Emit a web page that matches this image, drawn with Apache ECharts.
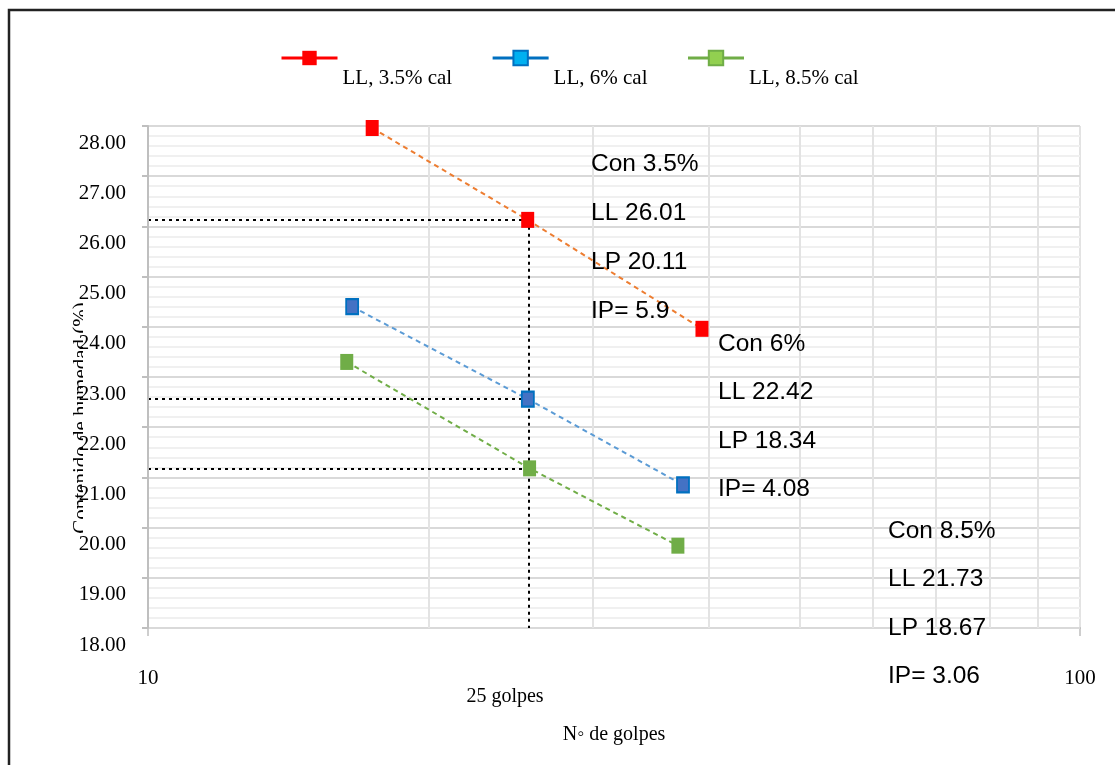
<!DOCTYPE html>
<html>
<head>
<meta charset="utf-8">
<script src="https://cdn.jsdelivr.net/npm/echarts@6/dist/echarts.min.js"></script>
<style>
html,body{margin:0;padding:0;background:#fff;}
#chart{width:1115px;height:765px;}
</style>
</head>
<body>
<div id="chart"></div>
<script>
// ---- data ----
const seriesNames = ['LL, 3.5% cal', 'LL, 6% cal', 'LL, 8.5% cal'];
const golpes35 = [17.4, 25.55, 39.3];
const hum35 = [27.96, 26.13, 23.96];
const golpes6 = [16.56, 25.56, 37.5];
const hum6 = [24.40, 22.56, 20.85];
const golpes85 = [16.34, 25.67, 37.03];
const hum85 = [23.30, 21.18, 19.64];
const golpes25 = 25.6;
const xMinorTicks = [20, 30, 40, 50, 60, 70, 80, 90];
const yMin = 18, yMax = 28, yStep = 1;
const xMin = 10, xMax = 100;
const block35 = ['Con 3.5%', 'LL 26.01', 'LP 20.11', 'IP= 5.9'];
const block6 = ['Con 6%', 'LL 22.42', 'LP 18.34', 'IP= 4.08'];
const block85 = ['Con 8.5%', 'LL 21.73', 'LP 18.67', 'IP= 3.06'];
const xAxisTitle = 'N\u25E6 de golpes';
const yAxisTitle = 'Contenido de humedad (%)';
const golpesLabel = '25 golpes';

const zip = (a, b) => a.map((v, i) => [v, b[i]]);

const serif = '"Liberation Serif", "Times New Roman", serif';
const sans = '"Liberation Sans", Arial, sans-serif';

const chart = echarts.init(document.getElementById('chart'));

function annot(lines, x, y0, step) {
  return lines.map((t, i) => ({
    type: 'text', x: x, y: y0 + i * step, z: 20,
    style: { text: t, font: '24.5px ' + sans, fill: '#000', verticalAlign: 'middle', align: 'left' }
  }));
}

const dotted = { color: '#000', width: 2, type: [3, 4] };

const option = {
  animation: false,
  backgroundColor: '#fff',
  grid: { left: 148, right: 35, top: 126, bottom: 137, containLabel: false },
  legend: {
    left: 280, top: 18, padding: 0, itemWidth: 56, itemHeight: 18, itemGap: 39,
    formatter: name => '\n' + name,
    textStyle: { fontFamily: serif, fontSize: 21, color: '#000', lineHeight: 40 },
    data: [
      { name: seriesNames[0], itemStyle: { color: '#FF0000', borderWidth: 0 }, lineStyle: { color: '#FF0000', width: 3, type: 'solid' } },
      { name: seriesNames[1], itemStyle: { color: '#00B0F0', borderColor: '#0070C0', borderWidth: 2 }, lineStyle: { color: '#0070C0', width: 3, type: 'solid' } },
      { name: seriesNames[2], itemStyle: { color: '#92D050', borderColor: '#70AD47', borderWidth: 2 }, lineStyle: { color: '#70AD47', width: 3, type: 'solid' } }
    ]
  },
  xAxis: {
    type: 'log', logBase: 10, min: xMin, max: xMax,
    name: xAxisTitle, nameLocation: 'middle', nameGap: 97,
    nameTextStyle: { fontFamily: serif, fontSize: 20, color: '#000' },
    axisLine: { show: true, lineStyle: { color: '#BFBFBF', width: 2 } },
    axisTick: { show: true, length: 8, lineStyle: { color: '#BFBFBF', width: 1.5 } },
    axisLabel: { margin: 40, fontFamily: serif, fontSize: 21, color: '#000', formatter: v => String(Math.round(v)) },
    splitLine: { show: true, lineStyle: { color: '#E3E3E3', width: 2 } },
    minorTick: { show: false }, minorSplitLine: { show: false }
  },
  yAxis: {
    type: 'value', min: yMin, max: yMax, interval: yStep, z: 5,
    axisLine: { show: true, lineStyle: { color: '#BFBFBF', width: 2 } },
    axisTick: { show: true, length: 6, lineStyle: { color: '#BFBFBF', width: 2 } },
    axisLabel: { margin: 22, fontFamily: serif, fontSize: 21, color: '#000', verticalAlign: 'top', lineHeight: 34,
      formatter: v => v.toFixed(2) },
    splitLine: { show: true, lineStyle: { color: '#D9D9D9', width: 2 } },
    minorTick: { show: false, splitNumber: 5 },
    minorSplitLine: { show: true, lineStyle: { color: '#F0F0F0', width: 2 } }
  },
  graphic: [
    { type: 'rect', z: 0, shape: { x: 9, y: 10, width: 1200, height: 900 }, style: { fill: 'none', stroke: '#222', lineWidth: 2.5 } },
    { type: 'text', z: 1, x: 81, y: 418, rotation: Math.PI / 2,
      style: { text: yAxisTitle, font: '21px ' + serif, fill: '#000', align: 'center', verticalAlign: 'middle' } },
    { type: 'rect', z: 2, shape: { x: 83, y: 270, width: 58, height: 300 }, style: { fill: '#fff' } },
    { type: 'text', z: 20, x: 505, y: 697, style: { text: golpesLabel, font: '20px ' + serif, fill: '#000', align: 'center', verticalAlign: 'middle' } }
  ].concat(annot(block35, 591, 164, 49), annot(block6, 718, 344, 48.5), annot(block85, 888, 531, 48.5)),
  series: [
    {
      type: 'line', name: '_grid', silent: true, data: [], z: 1,
      markLine: {
        silent: true, symbol: ['none', 'none'], label: { show: false }, animation: false,
        lineStyle: { color: '#E3E3E3', width: 2, type: 'solid' },
        data: xMinorTicks.map(v => ({ xAxis: v }))
      }
    },
    {
      type: 'line', name: '_guides', silent: true, data: [], z: 4,
      markLine: {
        silent: true, symbol: ['none', 'none'], label: { show: false }, animation: false,
        lineStyle: dotted,
        data: [
          [{ coord: [xMin, hum35[1]] }, { coord: [golpes35[1], hum35[1]] }],
          [{ coord: [xMin, hum6[1]] }, { coord: [golpes6[1], hum6[1]] }],
          [{ coord: [xMin, hum85[1]] }, { coord: [golpes85[1], hum85[1]] }],
          [{ coord: [golpes25, hum35[1]] }, { coord: [golpes25, yMin] }]
        ]
      }
    },
    {
      type: 'line', name: seriesNames[0], data: zip(golpes35, hum35), z: 6,
      symbol: 'rect', symbolSize: [13, 16],
      itemStyle: { color: '#FF0000' },
      lineStyle: { color: '#ED7D31', width: 2, type: [5, 4] }
    },
    {
      type: 'line', name: seriesNames[1], data: zip(golpes6, hum6), z: 6,
      symbol: 'rect', symbolSize: [12, 15],
      itemStyle: { color: '#4472C4', borderColor: '#0070C0', borderWidth: 2 },
      lineStyle: { color: '#5B9BD5', width: 2, type: [5, 4] }
    },
    {
      type: 'line', name: seriesNames[2], data: zip(golpes85, hum85), z: 6,
      symbol: 'rect', symbolSize: [13, 16],
      itemStyle: { color: '#70AD47' },
      lineStyle: { color: '#70AD47', width: 2, type: [5, 4] }
    }
  ]
};
chart.setOption(option);
</script>
</body>
</html>
